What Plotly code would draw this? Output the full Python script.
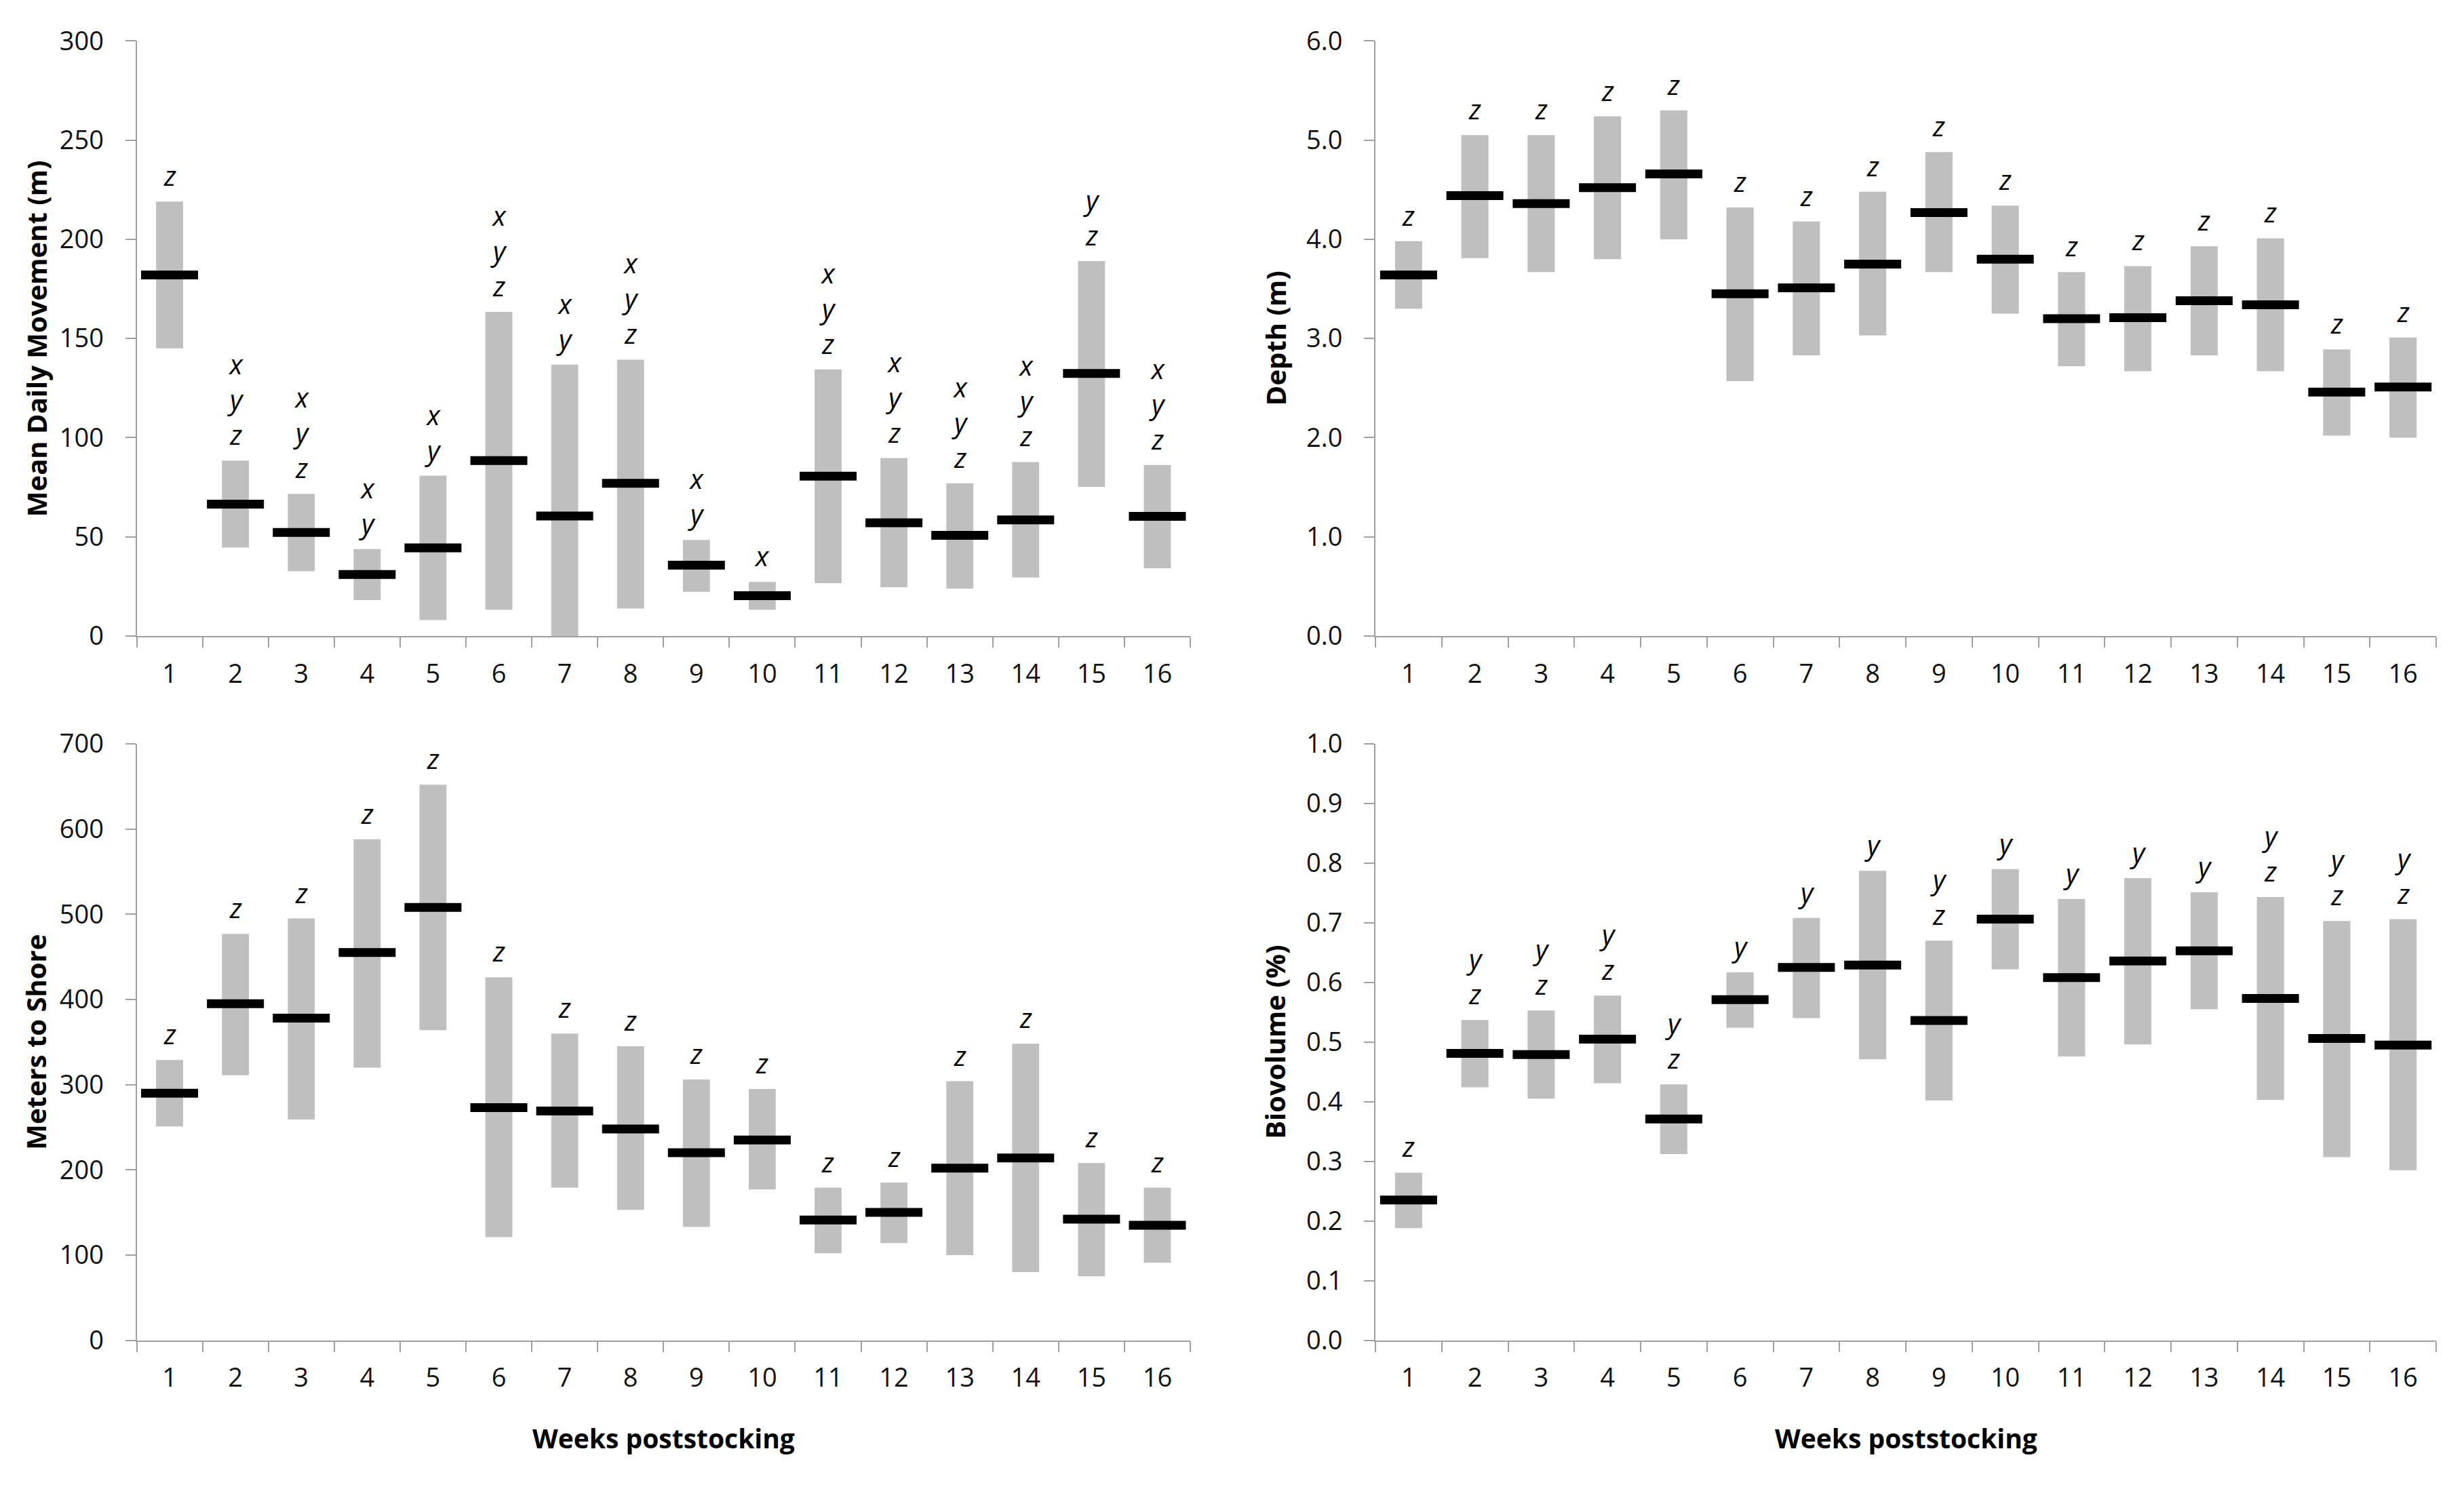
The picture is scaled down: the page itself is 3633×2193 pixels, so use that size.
import plotly.graph_objects as go

# ---------------- data ----------------
weeks = [str(i) for i in range(1, 17)]

move_low = [145, 44.6, 32.6, 18.1, 8, 13.2, 0, 13.8, 22.3, 13.2, 26.6, 24.6, 23.9, 29.5, 75.2, 34.2]
move_high = [219, 88.4, 71.7, 43.8, 80.8, 163.4, 136.8, 139.3, 48.4, 27.2, 134.4, 89.7, 77.0, 87.7, 189, 86.2]
move_mean = [182, 66.5, 52.2, 31, 44.4, 88.4, 60.5, 77, 35.7, 20.3, 80.6, 57.1, 50.7, 58.5, 132.4, 60.3]
move_letters = ["z", "x y z", "x y z", "x y", "x y", "x y z", "x y", "x y z",
                "x y", "x", "x y z", "x y z", "x y z", "x y z", "y z", "x y z"]

depth_low = [3.30, 3.81, 3.67, 3.80, 4.00, 2.57, 2.83, 3.03, 3.67, 3.25, 2.72, 2.67, 2.83, 2.67, 2.02, 2.00]
depth_high = [3.98, 5.05, 5.05, 5.24, 5.30, 4.32, 4.18, 4.48, 4.88, 4.34, 3.67, 3.73, 3.93, 4.01, 2.89, 3.01]
depth_mean = [3.64, 4.44, 4.36, 4.52, 4.66, 3.45, 3.51, 3.75, 4.27, 3.80, 3.20, 3.21, 3.38, 3.34, 2.46, 2.51]
depth_letters = ["z"] * 16

shore_low = [251, 311, 259, 320, 364, 121, 179, 153, 133, 177, 102, 114, 100, 80, 75, 91]
shore_high = [329, 477, 495, 588, 652, 426, 360, 345, 306, 295, 179, 185, 304, 348, 208, 179]
shore_mean = [290, 395, 378, 455, 508, 273, 269, 248, 220, 235, 141, 150, 202, 214, 142, 135]
shore_letters = ["z"] * 16

bio_low = [0.188, 0.424, 0.405, 0.431, 0.312, 0.524, 0.540, 0.471, 0.402, 0.622, 0.476, 0.496, 0.555, 0.403, 0.307, 0.285]
bio_high = [0.281, 0.537, 0.553, 0.578, 0.429, 0.617, 0.708, 0.787, 0.670, 0.790, 0.740, 0.775, 0.751, 0.743, 0.703, 0.706]
bio_mean = [0.235, 0.481, 0.479, 0.505, 0.371, 0.571, 0.625, 0.629, 0.536, 0.706, 0.608, 0.636, 0.653, 0.573, 0.506, 0.495]
bio_letters = ["z", "y z", "y z", "y z", "y z", "y", "y", "y",
               "y z", "y", "y", "y", "y", "y z", "y z", "y z"]

y_titles = ["Mean Daily Movement (m)", "Depth (m)", "Meters to Shore", "Biovolume (%)"]
x_title = "Weeks poststocking"

# ---------------- layout geometry (pixels of the page) ----------------
OFF = 8                      # default body margin of the html page
W, H = 3633 - 2 * OFF, 2193 - 2 * OFF
FONT = "Open Sans"
AXIS_COL = "#A0A0A0"
BAR_COL = "#BFBFBF"


def px(xp):
    return (xp - OFF) / W


def py(yp):
    return 1 - (yp - OFF) / H


left_x = (201.5, 1755)
right_x = (2028, 3592)
top_y = (33, 932)
bot_y = (1095, 1996)

panels = [
    dict(low=move_low, high=move_high, mean=move_mean, letters=move_letters,
         xd=left_x, yd=top_y, rng=[0, 300], dtick=50, fmt="d", title=y_titles[0], tx=53),
    dict(low=depth_low, high=depth_high, mean=depth_mean, letters=depth_letters,
         xd=right_x, yd=top_y, rng=[0, 6], dtick=1, fmt=".1f", title=y_titles[1], tx=1880),
    dict(low=shore_low, high=shore_high, mean=shore_mean, letters=shore_letters,
         xd=left_x, yd=bot_y, rng=[0, 700], dtick=100, fmt="d", title=y_titles[2], tx=53),
    dict(low=bio_low, high=bio_high, mean=bio_mean, letters=bio_letters,
         xd=right_x, yd=bot_y, rng=[0, 1], dtick=0.1, fmt=".1f", title=y_titles[3], tx=1880),
]

fig = go.Figure()
annotations = []
layout_axes = {}

for i, p in enumerate(panels, start=1):
    xa = "x" if i == 1 else f"x{i}"
    ya = "y" if i == 1 else f"y{i}"
    fig.add_trace(go.Bar(
        x=weeks, y=[h - l for h, l in zip(p["high"], p["low"])], base=p["low"],
        width=0.41, marker=dict(color=BAR_COL, line=dict(width=0)),
        xaxis=xa, yaxis=ya, showlegend=False, hoverinfo="skip"))
    fig.add_trace(go.Scatter(
        x=weeks, y=p["mean"], mode="markers",
        marker=dict(symbol="line-ew", size=60, line=dict(width=13, color="black")),
        xaxis=xa, yaxis=ya, showlegend=False))

    for k, (top, lett) in enumerate(zip(p["high"], p["letters"])):
        annotations.append(dict(
            x=k, y=top, xref=xa, yref=ya, yanchor="bottom", xanchor="center",
            text="<br>".join(f"<i>{c}</i>" for c in lett.split()),
            showarrow=False, yshift=9,
            font=dict(family=FONT, size=40, color="black")))

    yc = (p["yd"][0] + p["yd"][1]) / 2
    annotations.append(dict(
        x=px(p["tx"]), y=py(yc), xref="paper", yref="paper", textangle=-90,
        text=f"<b>{p['title']}</b>", showarrow=False, xanchor="center", yanchor="middle",
        font=dict(family=FONT, size=40, color="black")))

    xkey = "xaxis" if i == 1 else f"xaxis{i}"
    ykey = "yaxis" if i == 1 else f"yaxis{i}"
    layout_axes[xkey] = dict(
        domain=[px(p["xd"][0]), px(p["xd"][1])], anchor=ya, type="category",
        range=[-0.5, 15.5], tickson="boundaries", ticks="outside", ticklen=15,
        tickwidth=2, tickcolor=AXIS_COL, showline=True, linecolor=AXIS_COL, linewidth=2,
        showgrid=False, zeroline=False, ticklabelstandoff=21,
        tickfont=dict(family=FONT, size=38, color="#111111"), fixedrange=True)
    layout_axes[ykey] = dict(
        domain=[py(p["yd"][1]), py(p["yd"][0])], anchor=xa, range=p["rng"],
        dtick=p["dtick"], tick0=0, tickformat=p["fmt"], ticks="outside", ticklen=15,
        tickwidth=2, tickcolor=AXIS_COL, showline=True, linecolor=AXIS_COL, linewidth=2,
        showgrid=False, zeroline=False, ticklabelstandoff=24,
        tickfont=dict(family=FONT, size=38, color="#111111"), fixedrange=True)

for xd in (left_x, right_x):
    annotations.append(dict(
        x=px((xd[0] + xd[1]) / 2), y=py(2143), xref="paper", yref="paper",
        text=f"<b>{x_title}</b>", showarrow=False, xanchor="center", yanchor="middle",
        font=dict(family=FONT, size=39, color="black")))

fig.update_layout(
    width=W, height=H, margin=dict(l=0, r=0, t=0, b=0),
    paper_bgcolor="white", plot_bgcolor="white",
    font=dict(family=FONT, color="black"),
    showlegend=False, annotations=annotations, **layout_axes)

fig.write_html("out.html")
